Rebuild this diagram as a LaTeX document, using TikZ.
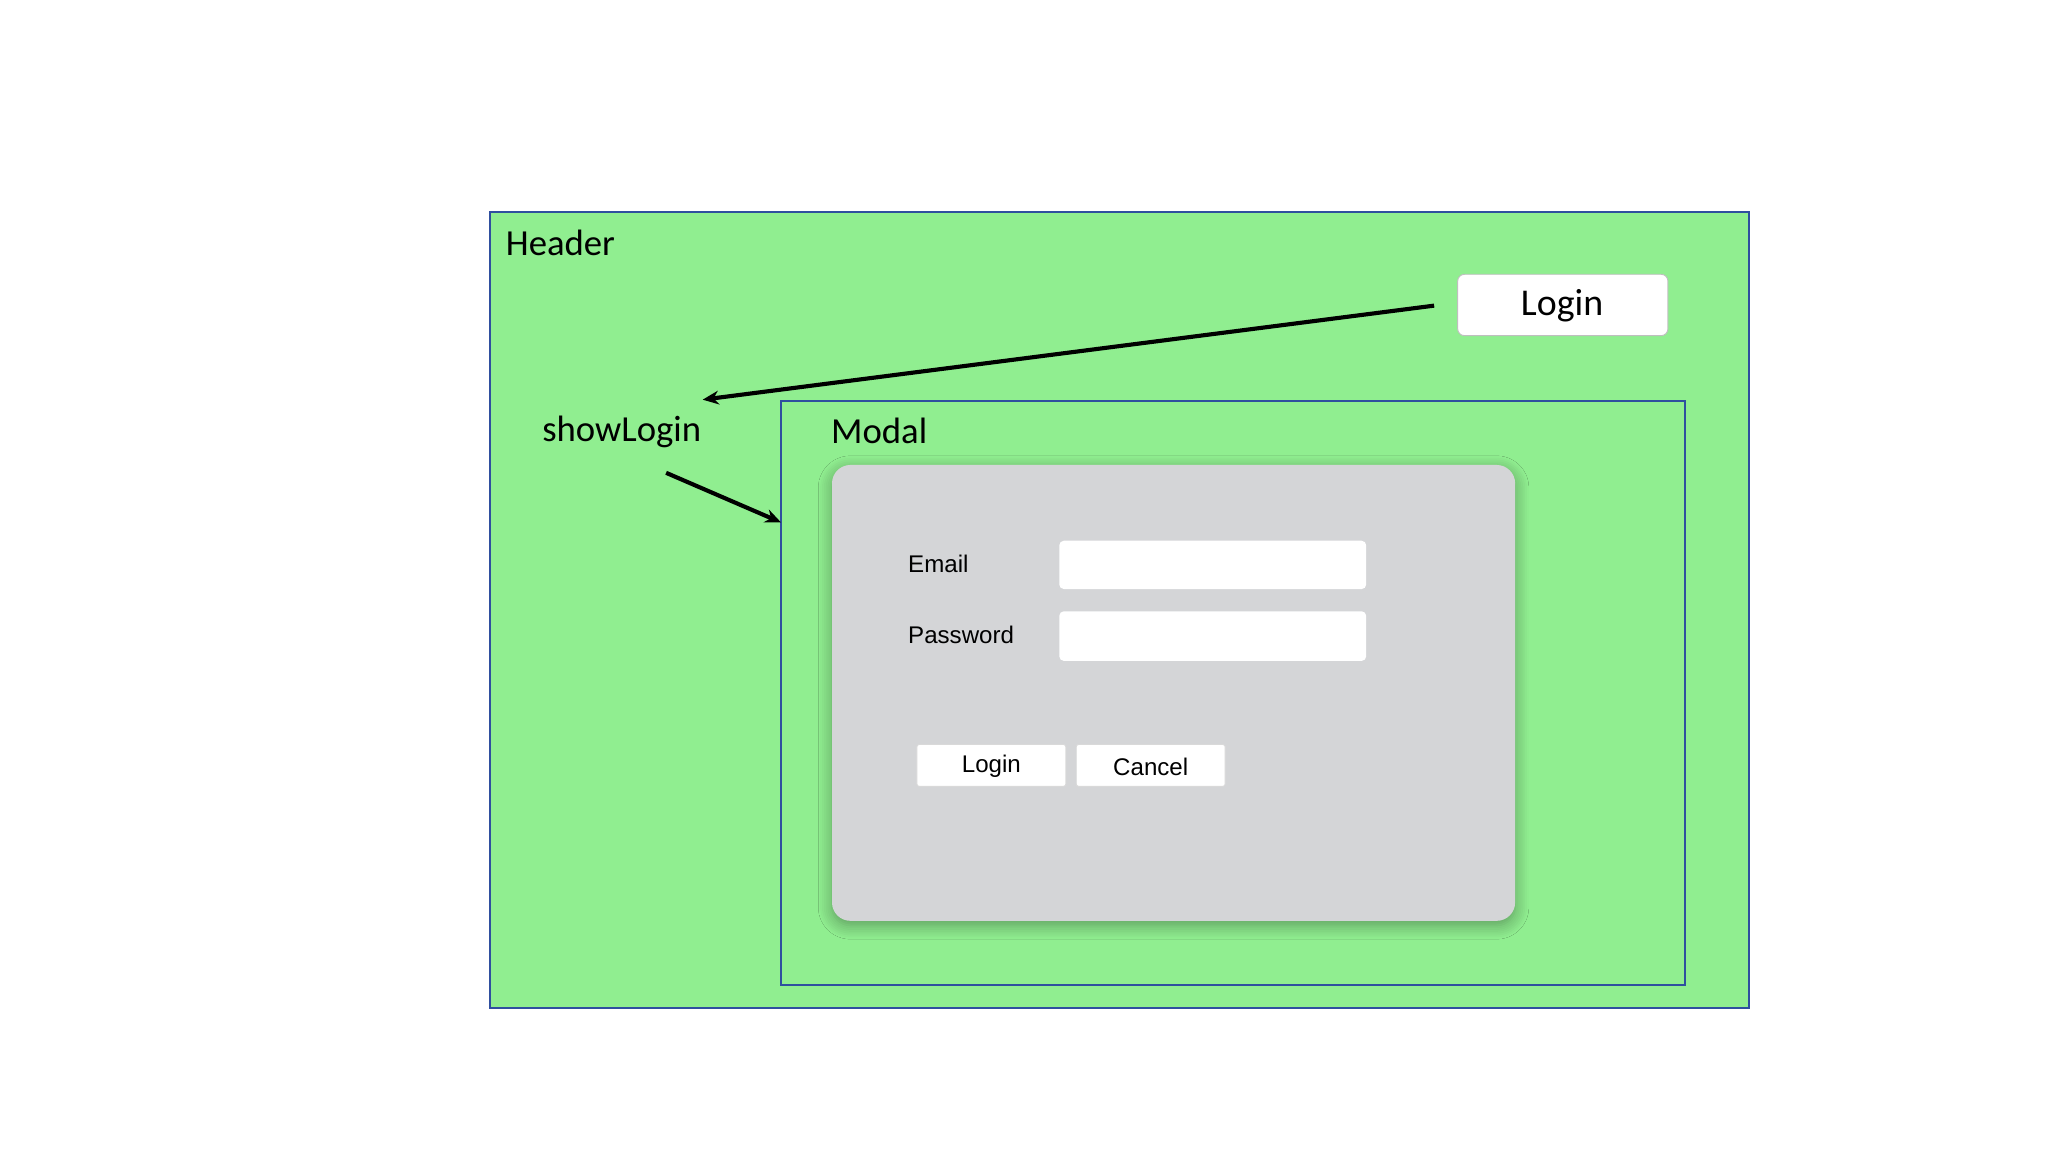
\documentclass[tikz,border=0pt]{standalone}
\usepackage{fontspec}
\setmainfont{Carlito}
\newfontfamily\arialf{Liberation Sans}
\usetikzlibrary{shadows.blur,arrows.meta}
\definecolor{hgreen}{HTML}{90EE90}
\definecolor{hblue}{HTML}{2F4F9F}
\definecolor{panelgray}{HTML}{D4D5D7}
\tikzset{
  frame/.style={draw=hblue,line width=0.8pt},
  lbl/.style={font=\fontsize{16}{18}\selectfont,inner sep=0pt},
  small/.style={font=\arialf\fontsize{10.5}{12}\selectfont,inner sep=0pt},
  field/.style={fill=white,rounded corners=2pt,draw=none},
  btn/.style={fill=white,rounded corners=1pt,draw=gray!30},
  arr/.style={-{Stealth[length=7pt,width=6pt]},line width=1.8pt}
}
\begin{document}
\begin{tikzpicture}[x=0.02cm,y=-0.02cm]
\useasboundingbox (0,0) rectangle (1568,882);
\fill[white] (0,0) rectangle (1568,882);
\draw[frame,fill=hgreen] (375,162) rectangle (1339,772);
\node[lbl,anchor=west] (hdr) at (387,186) {Header};
\draw[btn,rounded corners=3pt,draw=gray!50] (1116,210) rectangle (1277,257);
\node[lbl,font=\fontsize{16.5}{18}\selectfont] (loginbtn) at (1196,234) {Login};
\draw[frame] (598,307) rectangle (1290,754);
\node[lbl,anchor=west] (modal) at (636,330) {Modal};
\node[lbl] (show) at (476,331) {showLogin};
\coordinate (a1) at (1098,234);
\coordinate (a2) at (538,306);
\coordinate (b1) at (510,362);
\coordinate (b2) at (598,400);
\draw[arr] (a1) -- (a2);
\draw[arr] (b1) -- (b2);
\fill[panelgray,rounded corners=8pt,blur shadow={shadow blur steps=8,shadow xshift=0pt,shadow yshift=-2pt,shadow opacity=35,shadow blur radius=6pt}] (637,356) rectangle (1160,705);
\node[small,anchor=west] (email) at (695,432) {Email};
\node[small,anchor=west] (pw) at (695,486) {Password};
\fill[field] (811,414) rectangle (1046,451);
\fill[field] (811,468) rectangle (1046,506);
\draw[btn] (702,570) rectangle (816,602);
\draw[btn] (824,570) rectangle (938,602);
\node[small] (l2) at (759,587) {Login};
\node[small] (c2) at (881,587) {Cancel};
\end{tikzpicture}
\end{document}
